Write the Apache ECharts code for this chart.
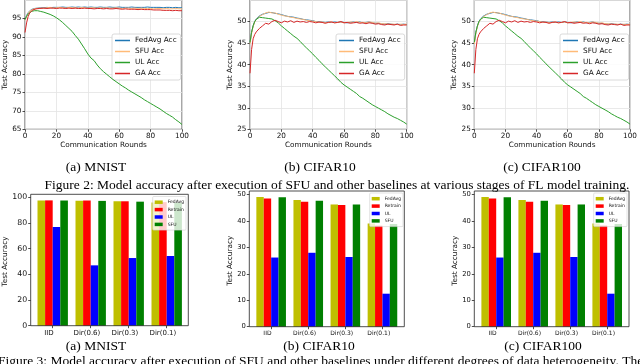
<!DOCTYPE html>
<html><head><meta charset="utf-8">
<script src="https://cdn.jsdelivr.net/npm/echarts/dist/echarts.min.js"></script>
<style>html,body{margin:0;padding:0;background:#fff}#c{width:640px;height:364px}</style>
</head><body><div id="c"></div><script>
// ---------- line charts (Figure 2) ----------
const rounds = [0,1,2,3,4,5,6,7,8,9,10,12,14,16,18,20,22,24,26,28,30,32,34,36,38,40,42,44,46,48,50,52,54,56,58,60,62,64,66,68,70,72,74,76,78,80,82,84,86,88,90,92,94,96,98,100];
const lineSeriesNames = ['FedAvg Acc','SFU Acc','UL Acc','GA Acc'];

const mnistFedAvg = [94.6,95.8,96.6,97.1,97.4,97.6,97.7,97.8,97.8,97.9,97.9,97.9,98.0,97.9,98.0,98.0,98.0,98.1,98.0,98.0,98.1,98.0,98.1,98.0,98.1,98.0,98.1,98.0,98.0,98.1,98.0,98.0,98.1,98.0,98.0,98.1,98.0,98.0,98.0,98.1,98.0,98.0,98.0,98.0,98.1,98.0,98.0,98.0,98.0,97.9,98.0,98.0,97.9,98.0,97.9,97.9];
const mnistSFU    = [94.5,95.5,96.4,97.0,97.3,97.5,97.6,97.7,97.8,97.8,97.9,97.8,97.9,98.0,97.8,97.9,98.0,97.9,97.8,98.0,97.9,97.9,97.8,98.0,97.9,97.8,97.9,97.9,97.8,97.9,97.8,97.9,97.8,97.8,97.9,97.8,97.7,97.8,97.8,97.7,97.8,97.7,97.8,97.7,97.7,97.7,97.6,97.7,97.7,97.6,97.7,97.6,97.6,97.7,97.6,97.6];
const mnistUL     = [94.7,95.6,96.2,96.6,96.9,97.0,97.1,97.1,97.1,97.0,96.9,96.7,96.4,96.1,95.7,95.2,94.6,93.9,93.1,92.3,91.5,90.4,89.4,88.1,86.8,85.4,84.3,83.6,82.4,81.4,80.6,79.9,79.2,78.5,77.9,77.3,76.7,76.2,75.6,75.1,74.6,74.1,73.6,73.0,72.5,72.0,71.5,71.0,70.5,69.9,69.3,68.8,68.3,67.6,67.0,66.3];
const mnistGA     = [91.2,93.8,95.5,96.5,97.0,97.3,97.5,97.6,97.6,97.7,97.7,97.8,97.7,97.8,97.8,97.7,97.8,97.8,97.7,97.8,97.7,97.8,97.7,97.7,97.8,97.7,97.7,97.6,97.7,97.7,97.6,97.7,97.6,97.6,97.7,97.6,97.5,97.6,97.5,97.5,97.5,97.4,97.5,97.4,97.4,97.4,97.3,97.3,97.3,97.2,97.2,97.2,97.1,97.2,97.1,97.1];

const cifar10FedAvg = [45.0,47.5,49.0,50.0,50.6,51.0,51.3,51.5,51.7,51.8,51.9,52.1,52.1,51.9,51.8,51.6,51.4,51.2,51.1,51.0,50.8,50.7,50.5,50.4,50.3,50.2,50.0,49.9,49.9,49.8,49.9,49.8,49.9,49.8,49.9,49.8,49.7,49.8,49.9,49.8,49.9,49.7,49.8,49.9,49.7,49.6,49.6,49.5,49.4,49.5,49.4,49.3,49.4,49.3,49.4,49.3];
const cifar10SFU    = [44.8,47.2,48.8,49.9,50.5,50.9,51.2,51.5,51.6,51.8,52.0,52.2,52.0,52.0,51.7,51.5,51.3,51.2,51.0,50.9,50.7,50.6,50.5,50.3,50.2,50.1,50.0,49.8,49.9,49.7,49.8,49.9,49.7,49.8,49.9,49.7,49.8,49.9,49.8,50.0,49.8,49.8,49.7,49.9,49.8,49.6,49.7,49.5,49.5,49.4,49.4,49.4,49.3,49.4,49.3,49.4];
const cifar10UL     = [45.2,47.5,49.0,50.0,50.5,50.8,51.0,51.0,50.9,50.8,50.8,50.7,50.6,50.2,49.7,49.0,48.4,47.8,47.2,46.6,46.1,45.4,44.6,43.9,43.2,42.5,41.7,41.0,40.2,39.5,38.8,38.1,37.4,36.7,35.9,35.3,34.8,34.3,33.8,33.3,32.6,32.2,31.7,31.2,30.7,30.3,29.9,29.5,29.1,28.6,28.2,27.8,27.5,27.1,26.7,26.2];
const cifar10GA     = [38.0,43.5,46.0,47.0,47.6,48.0,48.4,48.8,49.0,49.3,49.6,49.4,50.0,50.3,50.0,49.7,50.1,49.9,50.2,49.8,50.1,49.9,50.0,49.8,50.0,49.9,49.7,49.9,49.8,49.6,49.8,49.9,49.7,49.8,50.0,49.7,49.8,49.6,49.7,49.8,49.6,49.7,49.5,49.7,49.6,49.4,49.5,49.3,49.2,49.4,49.3,49.2,49.4,49.1,49.2,49.2];

const cifar100FedAvg = cifar10FedAvg.slice();
const cifar100SFU    = cifar10SFU.slice();
const cifar100UL     = cifar10UL.slice();
const cifar100GA     = cifar10GA.slice();

// ---------- bar charts (Figure 3) ----------
const barCategories = ['IID','Dir(0.6)','Dir(0.3)','Dir(0.1)'];
const barSeriesNames = ['FedAvg','Retrain','UL','SFU'];
const mnistBarFedAvg  = [97.5, 97.3, 97.0, 96.0];
const mnistBarRetrain = [97.6, 97.5, 96.9, 96.2];
const mnistBarUL      = [76.8, 47.0, 52.7, 54.3];
const mnistBarSFU     = [97.5, 97.2, 96.6, 95.8];
const cifar10BarFedAvg  = [49.1, 48.0, 46.3, 39.1];
const cifar10BarRetrain = [48.6, 47.3, 46.1, 38.3];
const cifar10BarUL      = [26.2, 28.0, 26.4, 12.5];
const cifar10BarSFU     = [49.0, 47.7, 46.3, 38.9];
const cifar100BarFedAvg  = [49.1, 48.0, 46.3, 39.1];
const cifar100BarRetrain = [48.6, 47.3, 46.1, 38.3];
const cifar100BarUL      = [26.2, 28.0, 26.4, 12.5];
const cifar100BarSFU     = [49.0, 47.7, 46.3, 38.9];

// ---------- styling / layout ----------
const FONT = 'DejaVu Sans';
const SERIF = 'Liberation Serif';
const lineColors = ['#1f77b4','#ffbb78','#2ca02c','#d62728'];
const barColors = ['#bfbf00','#ff0000','#0000ff','#008000'];

const grid = [], xAxis = [], yAxis = [], series = [], legend = [];

function lineChart(gi, box, ymin, ymax, datasets, legendLeft, nameGapY) {
  grid.push({left: box[0], top: box[1], width: box[2], height: box[3], show: true, borderColor: '#222', borderWidth: 0.8, backgroundColor: 'transparent'});
  xAxis.push({gridIndex: gi, type: 'value', min: 0, max: 100, interval: 20,
    axisLine: {show: false}, axisTick: {show: true, length: 2.5, lineStyle: {color: '#222', width: 0.8}},
    axisLabel: {fontFamily: FONT, fontSize: 7.3, color: '#111', margin: 3.5},
    splitLine: {show: true, lineStyle: {color: '#e3e3e3', width: 0.8}},
    name: 'Communication Rounds', nameLocation: 'middle', nameGap: 12.5,
    nameTextStyle: {fontFamily: FONT, fontSize: 7.3, color: '#111'}});
  yAxis.push({gridIndex: gi, type: 'value', min: ymin, max: ymax, interval: 5,
    axisLine: {show: false}, axisTick: {show: true, length: 2.5, lineStyle: {color: '#222', width: 0.8}},
    axisLabel: {fontFamily: FONT, fontSize: 7.3, color: '#111', margin: 3.5, showMaxLabel: false},
    splitLine: {show: true, lineStyle: {color: '#e3e3e3', width: 0.8}},
    name: 'Test Accuracy', nameLocation: 'middle', nameGap: nameGapY,
    nameTextStyle: {fontFamily: FONT, fontSize: 7.3, color: '#111'}});
  datasets.forEach((arr, k) => {
    series.push({type: 'line', name: lineSeriesNames[k], xAxisIndex: gi, yAxisIndex: gi,
      data: rounds.map((r, i) => [r, arr[i]]), showSymbol: false, symbol: 'none',
      lineStyle: {width: 1, color: lineColors[k]}, itemStyle: {color: lineColors[k]}, z: 2 + k});
  });
  legend.push({data: lineSeriesNames, orient: 'vertical', left: legendLeft, top: 34,
    icon: 'rect', itemWidth: 15, itemHeight: 1.5, itemGap: 0,
    padding: [1, 4, 1, 3], backgroundColor: 'rgba(255,255,255,0.85)', borderColor: '#d0d0d0', borderWidth: 0.8, borderRadius: 2,
    textStyle: {fontFamily: FONT, fontSize: 7.3, color: '#111', lineHeight: 11}, selectedMode: false});
}

function barChart(gi, box, frame, ymax, yint, datasets, barW, tickFont, legendRight, legendTop, nameGapY) {
  grid.push({left: box[0], top: box[1], width: box[2], height: box[3]});
  xAxis.push({gridIndex: gi, type: 'category', data: barCategories,
    axisLine: {show: false}, axisTick: {show: true, alignWithLabel: true, length: 2.5, lineStyle: {color: '#222', width: 0.8}},
    axisLabel: {fontFamily: FONT, fontSize: tickFont, color: '#111', margin: 3.5, padding: [0, barW, 0, 0]}});
  yAxis.push({gridIndex: gi, type: 'value', min: 0, max: ymax, interval: yint, offset: box[0] - frame[0],
    axisLine: {show: false}, axisTick: {show: true, length: 2.5, lineStyle: {color: '#222', width: 0.8}},
    axisLabel: {fontFamily: FONT, fontSize: tickFont + 0.8, color: '#111', margin: 3.5},
    splitLine: {show: false},
    name: 'Test Accuracy', nameLocation: 'middle', nameGap: nameGapY,
    nameTextStyle: {fontFamily: FONT, fontSize: 7.3, color: '#111'}});
  datasets.forEach((arr, k) => {
    series.push({type: 'bar', name: barSeriesNames[k], xAxisIndex: gi, yAxisIndex: gi,
      data: arr, barWidth: barW, barGap: '0%', itemStyle: {color: barColors[k]}});
  });
  legend.push({data: barSeriesNames, orient: 'vertical', right: legendRight, top: legendTop,
    icon: 'rect', itemWidth: 8, itemHeight: 3.5, itemGap: 0,
    padding: [2, 2, 2, 2], backgroundColor: 'rgba(255,255,255,0.8)', borderColor: '#d0d0d0', borderWidth: 0.6, borderRadius: 1,
    textStyle: {fontFamily: FONT, fontSize: 4.5, color: '#111', lineHeight: 7.4}, selectedMode: false});
}

function frameGrid(frame) {
  const gi = grid.length;
  grid.push({left: frame[0], top: frame[1], width: frame[2], height: frame[3], show: true, borderColor: '#222', borderWidth: 0.8, backgroundColor: 'transparent', z: 3});
  xAxis.push({gridIndex: gi, type: 'value', show: false});
  yAxis.push({gridIndex: gi, type: 'value', show: false});
}

lineChart(0, [25, -1.7, 157, 131], 65, 100, [mnistFedAvg, mnistSFU, mnistUL, mnistGA], 112, 15.3);
lineChart(1, [250, -7, 156.7, 136.3], 25, 55, [cifar10FedAvg, cifar10SFU, cifar10UL, cifar10GA], 336, 15.3);
lineChart(2, [474.3, -7, 156.7, 136.3], 25, 55, [cifar100FedAvg, cifar100SFU, cifar100UL, cifar100GA], 560, 16.3);

barChart(3, [33.7, 197.3, 152, 128.4], [30.7, 194.3, 157.6, 131.4], 100, 20,
  [mnistBarFedAvg, mnistBarRetrain, mnistBarUL, mnistBarSFU], 7.6, 7, 640 - 186, 196.5, 19);
barChart(4, [252.6, 194.7, 148.4, 132], [249.3, 191, 155, 135.7], 50, 10,
  [cifar10BarFedAvg, cifar10BarRetrain, cifar10BarUL, cifar10BarSFU], 7.4, 6, 640 - 403, 193, 12);
barChart(5, [477.7, 194.7, 148, 132], [474.3, 191, 154.7, 135.7], 50, 10,
  [cifar100BarFedAvg, cifar100BarRetrain, cifar100BarUL, cifar100BarSFU], 7.4, 6, 640 - 627, 193, 14);

frameGrid([30.7, 194.3, 157.6, 131.4]);
frameGrid([249.3, 191, 155, 135.7]);
frameGrid([474.3, 191, 154.7, 135.7]);

const captionStyle = {fontFamily: SERIF, fontSize: 13.5, fill: '#000'};
function cap(text, x, y, align) {
  return {type: 'text', x: x, y: y, style: Object.assign({text: text, align: align || 'center', verticalAlign: 'middle'}, captionStyle)};
}
const graphic = [
  cap('(a) MNIST', 96, 167), cap('(b) CIFAR10', 320, 167), cap('(c) CIFAR100', 542, 167),
  cap('Figure 2: Model accuracy after execution of SFU and other baselines at various stages of FL model training.', 337, 185),
  cap('(a) MNIST', 96, 346.5), cap('(b) CIFAR10', 319, 346.5), cap('(c) CIFAR100', 543, 346.5),
  cap('Figure 3: Model accuracy after execution of SFU and other baselines under different degrees of data heterogeneity. The', -2, 361, 'left')
];

const chart = echarts.init(document.getElementById('c'), null, {renderer: 'canvas'});
chart.setOption({animation: false, backgroundColor: '#fff', grid, xAxis, yAxis, series, legend, graphic});
</script></body></html>
